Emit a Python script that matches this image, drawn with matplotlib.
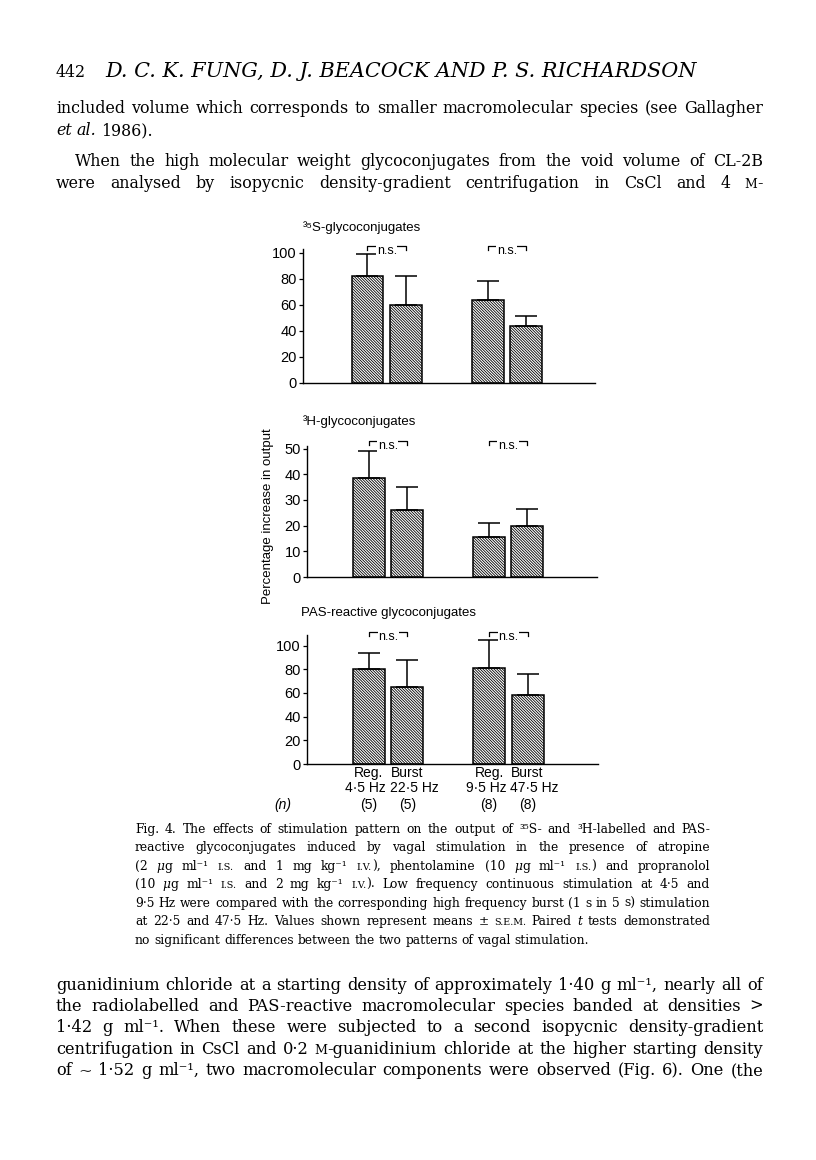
import re
import numpy as np
import matplotlib
matplotlib.use("Agg")
import matplotlib.pyplot as plt

W, H = 816, 1160
SANS = ["Liberation Sans", "DejaVu Sans"]
SERIF = ["DejaVu Serif"]

# chart data
cond_top = ["Reg.", "Burst", "Reg.", "Burst"]
cond_freq = ["4·5 Hz", "22·5 Hz", "9·5 Hz", "47·5 Hz"]
n_labels = ["(5)", "(5)", "(8)", "(8)"]
group = [0, 0, 1, 1]
slot = [0, 1, 0, 1]

s35_mean = [82.5, 60.0, 63.5, 44.0]
s35_sem = [16.5, 22.0, 15.0, 7.5]
h3_mean = [38.6, 26.0, 15.7, 20.0]
h3_sem = [10.4, 9.0, 5.5, 6.4]
pas_mean = [80.0, 65.0, 81.0, 58.5]
pas_sem = [13.5, 23.0, 24.0, 17.5]

panel_titles = ["³⁵S-glycoconjugates", "³H-glycoconjugates", "PAS-reactive glycoconjugates"]
panel_ticks = [[0, 20, 40, 60, 80, 100], [0, 10, 20, 30, 40, 50], [0, 20, 40, 60, 80, 100]]
y_label = "Percentage increase in output"

# page text
header_num = "442"
header_title = "D. C. K. FUNG, D. J. BEACOCK AND P. S. RICHARDSON"
top_lines = [
    "included volume which corresponds to smaller macromolecular species (see Gallagher",
    "*et* *al.* 1986).",
    "When the high molecular weight glycoconjugates from the void volume of CL-2B",
    "were analysed by isopycnic density-gradient centrifugation in CsCl and 4 ^m^-",
]
caption_lines = [
    "Fig. 4. The effects of stimulation pattern on the output of ³⁵S- and ³H-labelled and PAS-",
    "reactive glycoconjugates induced by vagal stimulation in the presence of atropine",
    "(2 *μ*g ml⁻¹ ^i.s.^ and 1 mg kg⁻¹ ^i.v.^), phentolamine (10 *μ*g ml⁻¹ ^i.s.^) and propranolol",
    "(10 *μ*g ml⁻¹ ^i.s.^ and 2 mg kg⁻¹ ^i.v.^). Low frequency continuous stimulation at 4·5 and",
    "9·5 Hz were compared with the corresponding high frequency burst (1 s in 5 s) stimulation",
    "at 22·5 and 47·5 Hz. Values shown represent means ± ^s.e.m.^ Paired *t* tests demonstrated",
    "no significant differences between the two patterns of vagal stimulation.",
]
bottom_lines = [
    "guanidinium chloride at a starting density of approximately 1·40 g ml⁻¹, nearly all of",
    "the radiolabelled and PAS-reactive macromolecular species banded at densities >",
    "1·42 g ml⁻¹. When these were subjected to a second isopycnic density-gradient",
    "centrifugation in CsCl and 0·2 ^m^-guanidinium chloride at the higher starting density",
    "of ~ 1·52 g ml⁻¹, two macromolecular components were observed (Fig. 6). One (the",
]

SEG = re.compile(r"(\*[^*]+\*|\^[^^]+\^)")


def px_rect(left, right, bottom, top):
    return [left / W, 1 - bottom / H, (right - left) / W, (bottom - top) / H]


def segments(word):
    out = []
    for s in SEG.split(word):
        if not s:
            continue
        if s.startswith("*"):
            out.append((s[1:-1], "italic", 1.0))
        elif s.startswith("^"):
            out.append((s[1:-1].upper(), "normal", 0.78))
        else:
            out.append((s, "normal", 1.0))
    return out


def make_words(fig, line, size):
    words = []
    for w in line.split():
        arts = [fig.text(0, 0, s, fontsize=size * k, fontstyle=st, family=SERIF,
                         ha="left", va="baseline") for s, st, k in segments(w)]
        words.append(arts)
    return words


def space_width(fig, rend, size):
    a = fig.text(0, 0, "n n", fontsize=size, family=SERIF)
    b = fig.text(0, 0, "nn", fontsize=size, family=SERIF)
    w = a.get_window_extent(rend).width - b.get_window_extent(rend).width
    a.remove()
    b.remove()
    return w


def natural_width(fig, rend, line, size):
    words = make_words(fig, line, size)
    total = sum(a.get_window_extent(rend).width for ws in words for a in ws)
    for ws in words:
        for a in ws:
            a.remove()
    return total + space_width(fig, rend, size) * (len(words) - 1)


def set_line(fig, rend, line, x0, x1, base_y, size, justify=True):
    words = make_words(fig, line, size)
    widths = [[a.get_window_extent(rend).width for a in ws] for ws in words]
    total = sum(sum(w) for w in widths)
    if justify and len(words) > 1:
        gap = (x1 - x0 - total) / (len(words) - 1)
    else:
        gap = space_width(fig, rend, size)
    x = x0
    for ws, wd in zip(words, widths):
        for a, w in zip(ws, wd):
            a.set_position((x / W, 1 - base_y / H))
            x += w
        x += gap


def set_paragraph(fig, rend, lines, starts, x1, baselines, justify, size):
    # scale the font so the widest justified line just fits
    ratio = max(natural_width(fig, rend, l, size) / (x1 - x0)
                for l, x0, j in zip(lines, starts, justify) if j)
    size = size * 0.99 / ratio
    for l, x0, y, j in zip(lines, starts, baselines, justify):
        set_line(fig, rend, l, x0, x1, y, size, j)
    return size


def draw_panel(ax, means, sems, ticks, ylim_top, xlim, bracket_px, ppu):
    xpos = np.array(group) * 3.12 + np.array(slot)
    ax.bar(xpos, means, width=0.83, color="white", edgecolor="black",
           linewidth=1.1, hatch="\\" * 12, zorder=2)
    ax.errorbar(xpos, means, yerr=[np.zeros(len(sems)), sems], fmt="none",
                ecolor="black", elinewidth=1.1, capsize=8, capthick=1.1, zorder=3)
    ax.set_xlim(*xlim)
    ax.set_ylim(0, ylim_top)
    ax.set_yticks(ticks)
    ax.tick_params(axis="y", direction="out", length=3, width=0.9, pad=1.5, labelsize=10.5)
    ax.set_xticks([])
    for side in ("top", "right"):
        ax.spines[side].set_visible(False)
    for side in ("left", "bottom"):
        ax.spines[side].set_linewidth(1.0)

    # n.s. brackets between paired bars
    yb = bracket_px / ppu
    tick = 4 / ppu
    for g in (0, 1):
        xa, xb = xpos[2 * g], xpos[2 * g + 1]
        ax.plot([xa, xa, xb, xb], [yb - tick, yb, yb, yb - tick], color="black",
                lw=0.9, clip_on=False)
        ax.text((xa + xb) / 2, yb + 1 / ppu, "n.s.", ha="center", va="top",
                fontsize=9, clip_on=False,
                bbox=dict(fc="white", ec="none", pad=0.4))
    return xpos


def main():
    plt.rcParams["font.family"] = SANS
    plt.rcParams["hatch.linewidth"] = 0.6

    fig = plt.figure(figsize=(W / 100, H / 100), dpi=100)
    fig.patch.set_facecolor("white")

    # left, right, axis bottom, axis top (pixels), ylim top, xlim, bracket height px, title pos
    layout = [
        (303, 595, 383, 249, 103, (-1.675, 5.91), 137, (303, 228)),
        (307, 597, 577, 446, 51, (-1.60, 5.93), 136, (303, 422)),
        (307, 598, 764, 635, 109, (-1.61, 5.95), 132, (301, 613)),
    ]
    series = [(s35_mean, s35_sem), (h3_mean, h3_sem), (pas_mean, pas_sem)]

    axes = []
    for (l, r, b, t, ytop, xl, bpx, tpos), (m, s), ticks, title in zip(
            layout, series, panel_ticks, panel_titles):
        ax = fig.add_axes(px_rect(l, r, b, t))
        ppu = (b - t) / ytop
        xpos = draw_panel(ax, m, s, ticks, ytop, xl, bpx, ppu)
        fig.text(tpos[0] / W, 1 - tpos[1] / H, title, fontsize=9.5, ha="left", va="center")
        axes.append((ax, xpos))

    # condition labels under the bottom panel
    ax, xpos = axes[-1]
    for i, x in enumerate(xpos):
        ax.annotate(cond_top[i], xy=(x, 0), xycoords=("data", "axes fraction"),
                    xytext=(0, -9 * 0.72), textcoords="offset points",
                    ha="center", va="center", fontsize=10)
        mid = (xpos[2 * group[i]] + xpos[2 * group[i] + 1]) / 2
        off = -1.5 if slot[i] == 0 else 1.5
        ax.annotate(cond_freq[i], xy=(mid, 0), xycoords=("data", "axes fraction"),
                    xytext=(off, -24 * 0.72), textcoords="offset points",
                    ha="right" if slot[i] == 0 else "left", va="center", fontsize=10)
        ax.annotate(n_labels[i], xy=(x, 0), xycoords=("data", "axes fraction"),
                    xytext=(0, -41 * 0.72), textcoords="offset points",
                    ha="center", va="center", fontsize=10)
    fig.text(283 / W, 1 - 805 / H, "(n)", fontsize=10, fontstyle="italic",
             ha="center", va="center")

    fig.text(268 / W, 1 - 516 / H, y_label, rotation=90, fontsize=9.5,
             ha="center", va="center")

    # page text
    rend = fig.canvas.get_renderer()
    body = set_paragraph(fig, rend, top_lines, [56, 56, 75, 56], 763,
                         [113, 135, 166, 188], [True, False, True, True], 10.8)
    set_paragraph(fig, rend, caption_lines, [135] * 7, 710,
                  [833, 851, 870, 888, 907, 925, 944], [True] * 6 + [False], 8.6)
    set_paragraph(fig, rend, bottom_lines, [56] * 5, 763,
                  [990, 1011, 1032, 1054, 1075], [True] * 5, 10.8)

    fig.text(56 / W, 1 - 77 / H, header_num, family=SERIF, fontsize=body, va="baseline")
    ht = fig.text(105 / W, 1 - 77 / H, header_title, family=SERIF, fontsize=11,
                  fontstyle="italic", va="baseline")
    hw = ht.get_window_extent(rend).width
    ht.set_fontsize(11 * 590 / hw)

    fig.savefig("out.png", dpi=100, facecolor="white")
    plt.close(fig)


if __name__ == "__main__":
    main()
